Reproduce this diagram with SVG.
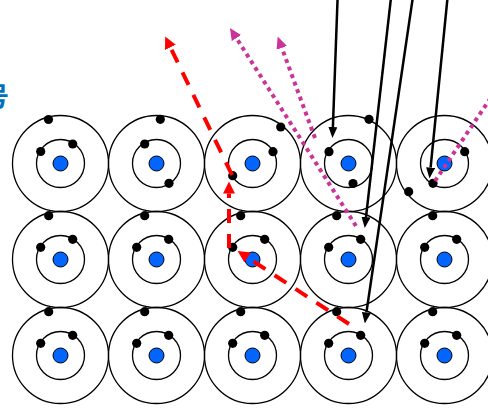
<svg xmlns="http://www.w3.org/2000/svg" xmlns:xlink="http://www.w3.org/1999/xlink" width="488" height="409" viewBox="0 0 488 409">
  <style>
    .shell { fill: none; stroke: #000; stroke-width: 1.3; }
    .nuc { fill: #0066ff; stroke: #000; stroke-width: 1; }
    .e { fill: #000; }
    .beam { fill: none; stroke: #000; stroke-width: 2.5; }
    .dot { fill: none; stroke: #cc3399; stroke-width: 4; stroke-dasharray: 4 4; }
    .dash { fill: none; stroke: #ff0000; stroke-width: 4; stroke-dasharray: 14 11; }
    .label { font-family: "Noto Sans CJK SC", "Noto Sans", sans-serif; font-size: 26px; font-weight: bold; fill: #0070c0; }
  </style>
  <defs>
    <!-- one atom: outer shell, inner shell, nucleus -->
    <g id="core">
      <circle class="shell" r="48"/>
      <circle class="shell" r="24"/>
      <circle class="nuc" r="7.5"/>
    </g>
    <marker id="headBlack" viewBox="0 0 11 9" refX="0" refY="4.5" markerWidth="11" markerHeight="9" orient="auto" markerUnits="userSpaceOnUse">
      <path d="M0,0 L11,4.5 L0,9 z" fill="#000"/>
    </marker>
    <marker id="headPink" viewBox="0 0 12 11" refX="0" refY="5.5" markerWidth="12" markerHeight="11" orient="auto" markerUnits="userSpaceOnUse">
      <path d="M0,0 L12,5.5 L0,11 z" fill="#cc3399"/>
    </marker>
    <marker id="headRed" viewBox="0 0 12 12" refX="0" refY="6" markerWidth="12" markerHeight="12" orient="auto" markerUnits="userSpaceOnUse">
      <path d="M0,0 L12,6 L0,12 z" fill="#ff0000"/>
    </marker>
  </defs>

  <text class="label" x="-17" y="106">号</text>

  <!-- row 1 -->
  <g id="atom-r1c1">
    <use xlink:href="#core" x="60.5" y="163.5"/>
    <circle class="e" cx="48.5" cy="119.5" r="4.6"/>
    <circle class="e" cx="40.7" cy="151.5" r="4.6"/>
    <circle class="e" cx="72.7" cy="144" r="4.6"/>
  </g>
  <g id="atom-r1c2">
    <use xlink:href="#core" x="156.5" y="163.5"/>
    <circle class="e" cx="160.3" cy="119.3" r="4.6"/>
    <circle class="e" cx="144.7" cy="144" r="4.6"/>
    <circle class="e" cx="169" cy="183.3" r="4.6"/>
  </g>
  <g id="atom-r1c3">
    <use xlink:href="#core" x="252.5" y="163.5"/>
    <circle class="e" cx="280.7" cy="127" r="4.6"/>
    <circle class="e" cx="273" cy="151.7" r="4.6"/>
    <circle class="e" cx="232.7" cy="175.7" r="4.6"/>
  </g>
  <g id="atom-r1c4">
    <use xlink:href="#core" x="348.5" y="163.5"/>
    <circle class="e" cx="369" cy="119.3" r="4.6"/>
    <circle class="e" cx="329" cy="151.7" r="4.6"/>
    <circle class="e" cx="353" cy="183.5" r="4.6"/>
  </g>
  <g id="atom-r1c5">
    <use xlink:href="#core" x="444.5" y="163.5"/>
    <circle class="e" cx="408.7" cy="191.7" r="4.6"/>
    <circle class="e" cx="464.7" cy="151.7" r="4.6"/>
    <circle class="e" cx="433" cy="183.3" r="4.6"/>
  </g>

  <!-- row 2 -->
  <g id="atom-r2c1">
    <use xlink:href="#core" x="60.5" y="259.5"/>
    <circle class="e" cx="48.7" cy="215.7" r="4.6"/>
    <circle class="e" cx="40.7" cy="247.3" r="4.6"/>
    <circle class="e" cx="72.7" cy="239.3" r="4.6"/>
  </g>
  <g id="atom-r2c2">
    <use xlink:href="#core" x="156.5" y="259.5"/>
    <circle class="e" cx="144.7" cy="215.7" r="4.6"/>
    <circle class="e" cx="136.7" cy="247.3" r="4.6"/>
    <circle class="e" cx="168.7" cy="239.3" r="4.6"/>
  </g>
  <g id="atom-r2c3">
    <use xlink:href="#core" x="252.5" y="259.5"/>
    <circle class="e" cx="240.7" cy="215.7" r="4.6"/>
    <circle class="e" cx="232.7" cy="247.3" r="4.6"/>
    <circle class="e" cx="264.7" cy="239.3" r="4.6"/>
  </g>
  <g id="atom-r2c4">
    <use xlink:href="#core" x="348.5" y="259.5"/>
    <circle class="e" cx="336.7" cy="215.7" r="4.6"/>
    <circle class="e" cx="328.7" cy="247.3" r="4.6"/>
    <circle class="e" cx="360.7" cy="239.3" r="4.6"/>
  </g>
  <g id="atom-r2c5">
    <use xlink:href="#core" x="444.5" y="259.5"/>
    <circle class="e" cx="432.7" cy="215.7" r="4.6"/>
    <circle class="e" cx="424.7" cy="247.3" r="4.6"/>
    <circle class="e" cx="456.7" cy="239.3" r="4.6"/>
  </g>

  <!-- row 3 -->
  <g id="atom-r3c1">
    <use xlink:href="#core" x="60.5" y="355.5"/>
    <circle class="e" cx="48.7" cy="311.7" r="4.6"/>
    <circle class="e" cx="40.7" cy="343.3" r="4.6"/>
    <circle class="e" cx="72.7" cy="335.3" r="4.6"/>
  </g>
  <g id="atom-r3c2">
    <use xlink:href="#core" x="156.5" y="355.5"/>
    <circle class="e" cx="144.7" cy="311.7" r="4.6"/>
    <circle class="e" cx="136.7" cy="343.3" r="4.6"/>
    <circle class="e" cx="168.7" cy="335.3" r="4.6"/>
  </g>
  <g id="atom-r3c3">
    <use xlink:href="#core" x="252.5" y="355.5"/>
    <circle class="e" cx="240.7" cy="311.7" r="4.6"/>
    <circle class="e" cx="232.7" cy="343.3" r="4.6"/>
    <circle class="e" cx="264.7" cy="335.3" r="4.6"/>
  </g>
  <g id="atom-r3c4">
    <use xlink:href="#core" x="348.5" y="355.5"/>
    <circle class="e" cx="336.7" cy="311.7" r="4.6"/>
    <circle class="e" cx="328.7" cy="343.3" r="4.6"/>
    <circle class="e" cx="360.7" cy="335.3" r="4.6"/>
  </g>
  <g id="atom-r3c5">
    <use xlink:href="#core" x="444.5" y="355.5"/>
    <circle class="e" cx="432.7" cy="311.7" r="4.6"/>
    <circle class="e" cx="424.7" cy="343.3" r="4.6"/>
    <circle class="e" cx="456.7" cy="335.3" r="4.6"/>
  </g>

  <g id="connectors">
    <!-- incoming beams -->
    <path class="beam" d="M337.7,-5 L332.9,127" marker-end="url(#headBlack)"/>
    <path class="beam" d="M391.3,-5 L366.0,217.1" marker-end="url(#headBlack)"/>
    <path class="beam" d="M413.2,-5 L366.4,312.6" marker-end="url(#headBlack)"/>
    <path class="beam" d="M447.8,-5 L430.6,167.6" marker-end="url(#headBlack)"/>
    <!-- scattered (dotted) -->
    <path class="dot" d="M356,226 L236.4,38.1" marker-end="url(#headPink)"/>
    <path class="dot" d="M315,138 L281.8,47.8" marker-end="url(#headPink)"/>
    <path class="dot" d="M435,181 L498,87"/>
    <!-- electron path (dashed) -->
    <path class="dash" d="M349,324 L247.7,257.6" marker-end="url(#headRed)"/>
    <path class="dash" d="M229,248 L229,193.5" marker-end="url(#headRed)"/>
    <path class="dash" d="M232,175 L170.4,47.3" marker-end="url(#headRed)"/>
  </g>
</svg>
